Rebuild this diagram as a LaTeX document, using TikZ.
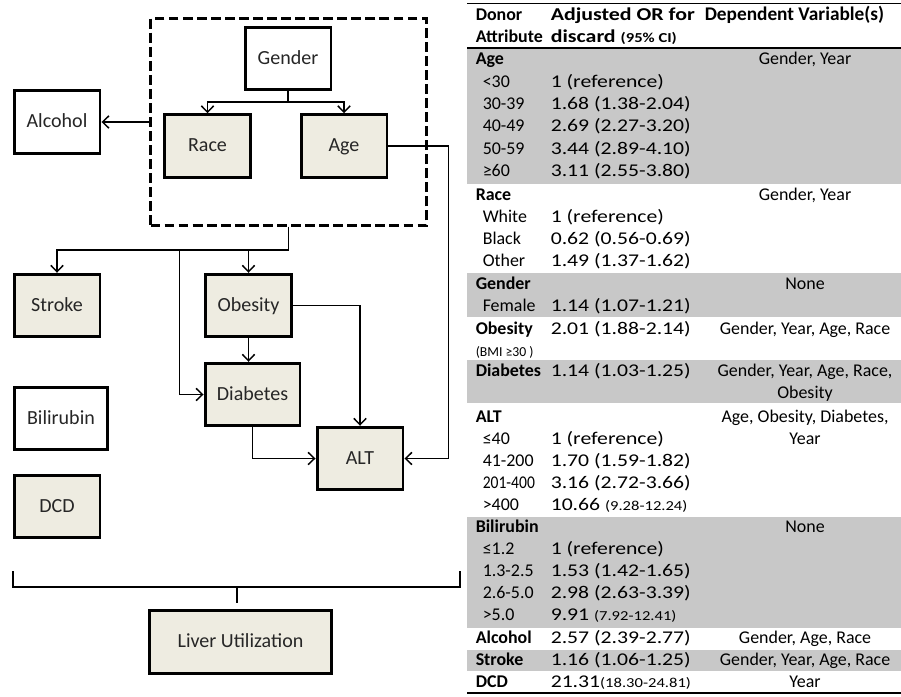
\documentclass[tikz,border=0pt]{standalone}
\usepackage{fontspec}
\setmainfont{Carlito}
\newfontfamily\widefam[FakeStretch=1.21]{Carlito}
\newfontfamily\narrowfam[FakeStretch=0.87]{Carlito}
\usepackage{tikz}
\usetikzlibrary{arrows.meta}

\definecolor{boxtan}{HTML}{EEECE1}
\definecolor{bandgray}{RGB}{200,200,200}
\newcommand{\boxfont}{\fontsize{11.4}{13}\selectfont}
\newcommand{\tabfont}{\fontsize{10.2}{12}\selectfont}
\newcommand{\tabsmall}{\fontsize{7.8}{9}\selectfont}

\begin{document}
\begin{tikzpicture}[-,>={Straight Barb[length=3.6pt,width=7pt]},x=0.02cm,y=-0.02cm,line width=0.85pt]
  \tikzstyle{var}=[draw,line width=1.7pt,fill=boxtan,minimum width=1.72cm,minimum height=1.25cm,font=\boxfont,text=black!85,text height=1.6ex,text depth=0.2ex]
  \tikzstyle{plain}=[var,fill=white]
  \tikzstyle{link}=[->]
  \tikzstyle{cell}=[anchor=west,inner sep=0pt,font=\tabfont,text height=1.45ex,text depth=0.35ex]
  \tikzstyle{head}=[cell,font=\tabfont\bfseries]
  \tikzstyle{val}=[cell,font=\tabfont\widefam]
  \tikzstyle{dep}=[cell,anchor=center]

  \useasboundingbox (0,0) rectangle (901,696);

  % causal diagram
  \node[draw,line width=1.7pt,dash pattern=on 5.6pt off 2.4pt,minimum width=5.52cm,minimum height=4.14cm] (demo) at (288.5,122) {};
  \node[plain] (gender) at (288,58.5) {Gender};
  \node[var] (race) at (207.5,146) {Race};
  \node[var] (age) at (344,146) {Age};
  \node[plain] (alcohol) at (57,122) {Alcohol};
  \node[var] (stroke) at (57,305.5) {Stroke};
  \node[var] (obesity) at (248.5,305.5) {Obesity};
  \node[var,minimum width=1.9cm] (diabetes) at (252.5,394.5) {Diabetes};
  \node[plain,minimum width=1.88cm] (bilirubin) at (61,418.5) {Bilirubin};
  \node[var] (alt) at (360,458.5) {ALT};
  \node[var] (dcd) at (57,506.5) {DCD};
  \node[var,minimum width=3.64cm] (liver) at (240.5,642) {Liver Utilization};

  \draw[link] (gender.south) -- ++(0,11) -| (race.north);
  \draw[link] (gender.south) -- ++(0,11) -| (age.north);
  \draw[link] (demo.west) -- (alcohol.east);
  \draw[link] (demo.south) -- ++(0,23) -| (stroke.north);
  \draw[link] (demo.south) -- ++(0,23) -| (obesity.north);
  \draw[link] (demo.south) -- ++(0,23) -| ([xshift=-13.6pt]diabetes.west) -- (diabetes.west);
  \draw[link] (obesity.south) -- (obesity.south |- diabetes.north);
  \draw[link] (obesity.east) -| (alt.north);
  \draw[link] (diabetes.south) |- (alt.west);
  \draw[link] (age.east) -- ++(60,0) |- (alt.east);

  % bracket to outcome
  \coordinate (bl) at (13,571);
  \coordinate (br) at (460,571);
  \coordinate (bm) at (237,587);
  \draw (bl) -- ++(0,16) -| (br);
  \draw (bm) -- ++(0,16);

  % table
  \fill[bandgray] (467,48) rectangle (901,184);
  \fill[bandgray] (467,273) rectangle (901,317);
  \fill[bandgray] (467,360) rectangle (901,403);
  \fill[bandgray] (467,517) rectangle (901,628);
  \fill[bandgray] (467,650) rectangle (901,671);
  \draw[line width=0.6pt] (467,3.5) -- (901,3.5);
  \draw[line width=0.6pt] (467,48) -- (901,48);
  \draw[line width=0.6pt] (467,693) -- (901,693);

  \node[head] (hDonor) at (475,16) {Donor};
  \node[head] (hAttr) at (475,38) {Attribute};
  \node[head,font=\fontsize{10.3}{12}\selectfont\widefam\bfseries] (hOR) at (550,16) {Adjusted OR for};
  \node[head,font=\fontsize{10.3}{12}\selectfont\widefam\bfseries] (hDisc) at (550,38) {discard {\tabsmall(95\% CI)}};
  \node[head,font=\fontsize{11}{13}\selectfont\bfseries] (hDep) at (704,16) {Dependent Variable(s)};

  \node[head] (tAge) at (475,60) {Age};
  \node[dep] (tAgeDep) at (805,60) {Gender, Year};
  \node[cell] (tAge1) at (482,83) {<30};
  \node[val] (tAge1v) at (550,83) {1 (reference)};
  \node[cell] (tAge2) at (482,105) {30-39};
  \node[val] (tAge2v) at (550,105) {1.68 (1.38-2.04)};
  \node[cell] (tAge3) at (482,127) {40-49};
  \node[val] (tAge3v) at (550,127) {2.69 (2.27-3.20)};
  \node[cell] (tAge4) at (482,150) {50-59};
  \node[val] (tAge4v) at (550,150) {3.44 (2.89-4.10)};
  \node[cell] (tAge5) at (482,172) {≥60};
  \node[val] (tAge5v) at (550,172) {3.11 (2.55-3.80)};

  \node[head] (tRace) at (475,196) {Race};
  \node[dep] (tRaceDep) at (805,196) {Gender, Year};
  \node[cell] (tRace1) at (482,218) {White};
  \node[val] (tRace1v) at (550,218) {1 (reference)};
  \node[cell] (tRace2) at (482,240) {Black};
  \node[val] (tRace2v) at (550,240) {0.62 (0.56-0.69)};
  \node[cell] (tRace3) at (482,262) {Other};
  \node[val] (tRace3v) at (550,262) {1.49 (1.37-1.62)};

  \node[head] (tGen) at (475,285) {Gender};
  \node[dep] (tGenDep) at (805,285) {None};
  \node[cell] (tGen1) at (482,307) {Female};
  \node[val] (tGen1v) at (550,307) {1.14 (1.07-1.21)};

  \node[head] (tObe) at (475,330) {Obesity};
  \node[val] (tObev) at (550,330) {2.01 (1.88-2.14)};
  \node[dep] (tObeDep) at (805,330) {Gender, Year, Age, Race};
  \node[cell,font=\tabsmall] (tObeBmi) at (475,352) {(BMI ≥30 )};

  \node[head] (tDia) at (475,372) {Diabetes};
  \node[val] (tDiav) at (550,372) {1.14 (1.03-1.25)};
  \node[dep] (tDiaDep) at (805,372) {Gender, Year, Age, Race,};
  \node[dep] (tDiaDep2) at (805,394) {Obesity};

  \node[head] (tAlt) at (475,418) {ALT};
  \node[dep] (tAltDep) at (805,418) {Age, Obesity, Diabetes,};
  \node[dep] (tAltDep2) at (805,440) {Year};
  \node[cell] (tAlt1) at (482,440) {≤40};
  \node[val] (tAlt1v) at (550,440) {1 (reference)};
  \node[cell] (tAlt2) at (482,462) {41-200};
  \node[val] (tAlt2v) at (550,462) {1.70 (1.59-1.82)};
  \node[cell,font=\tabfont\narrowfam] (tAlt3) at (482,484) {201-400};
  \node[val] (tAlt3v) at (550,484) {3.16 (2.72-3.66)};
  \node[cell] (tAlt4) at (482,506) {>400};
  \node[val] (tAlt4v) at (550,506) {10.66 {\tabsmall(9.28-12.24)}};

  \node[head] (tBil) at (475,528) {Bilirubin};
  \node[dep] (tBilDep) at (805,528) {None};
  \node[cell] (tBil1) at (482,550) {≤1.2};
  \node[val] (tBil1v) at (550,550) {1 (reference)};
  \node[cell] (tBil2) at (482,572) {1.3-2.5};
  \node[val] (tBil2v) at (550,572) {1.53 (1.42-1.65)};
  \node[cell] (tBil3) at (482,594) {2.6-5.0};
  \node[val] (tBil3v) at (550,594) {2.98 (2.63-3.39)};
  \node[cell] (tBil4) at (482,616) {>5.0};
  \node[val] (tBil4v) at (550,616) {9.91 {\tabsmall(7.92-12.41)}};

  \node[head] (tAlc) at (475,639) {Alcohol};
  \node[val] (tAlcv) at (550,639) {2.57 (2.39-2.77)};
  \node[dep] (tAlcDep) at (805,639) {Gender, Age, Race};
  \node[head] (tStr) at (475,661) {Stroke};
  \node[val] (tStrv) at (550,661) {1.16 (1.06-1.25)};
  \node[dep] (tStrDep) at (805,661) {Gender, Year, Age, Race};
  \node[head] (tDcd) at (475,683) {DCD};
  \node[val] (tDcdv) at (550,683) {21.31{\tabsmall(18.30-24.81)}};
  \node[dep] (tDcdDep) at (805,683) {Year};

\end{tikzpicture}
\end{document}
